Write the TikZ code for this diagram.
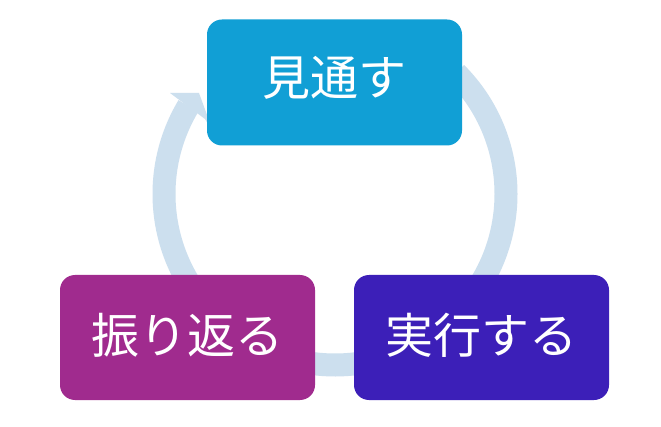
\documentclass[tikz,border=0pt]{standalone}
\usepackage{fontspec}
\newfontfamily\jp{Noto Sans CJK JP}
\definecolor{cTop}{HTML}{119FD5}
\definecolor{cRight}{HTML}{3C1FB8}
\definecolor{cLeft}{HTML}{A02B8E}
\definecolor{cArc}{HTML}{CCDFEE}
\begin{document}
\begin{tikzpicture}[x=1pt,y=1pt,
  stagebox/.style={rounded corners=15pt, minimum width=255pt, minimum height=125pt,
    inner sep=0pt, text=white},
  stagetext/.style={text=white, inner sep=0pt, font=\jp\fontsize{48}{52}\selectfont},
  ring/.style={draw=cArc, line width=23pt}]
\useasboundingbox (0,0) rectangle (661,426);
\fill[white] (0,0) rectangle (661,426);
\coordinate (c) at (335,232);
% ring segments
\draw[ring] (c) ++(45:171) arc (45:-145:171);
\draw[ring] (c) ++(215:171) arc (215:149:171);
\fill[cArc] (170,333) -- (199,333) -- (214,292) -- (205,307) -- cycle;
% boxes
\node[stagebox, fill=cTop, minimum height=126pt] (see) at (334.5,343.5) {};
\node[stagebox, fill=cRight] (do) at (481.5,88.5) {};
\node[stagebox, fill=cLeft] (look) at (187.5,88.5) {};
\node[stagetext] (seet) at ([yshift=5pt]see.center) {見通す};
\node[stagetext] (dot) at ([yshift=2pt]do.center) {実行する};
\node[stagetext] (lookt) at ([yshift=2pt]look.center) {振り返る};
\end{tikzpicture}
\end{document}
